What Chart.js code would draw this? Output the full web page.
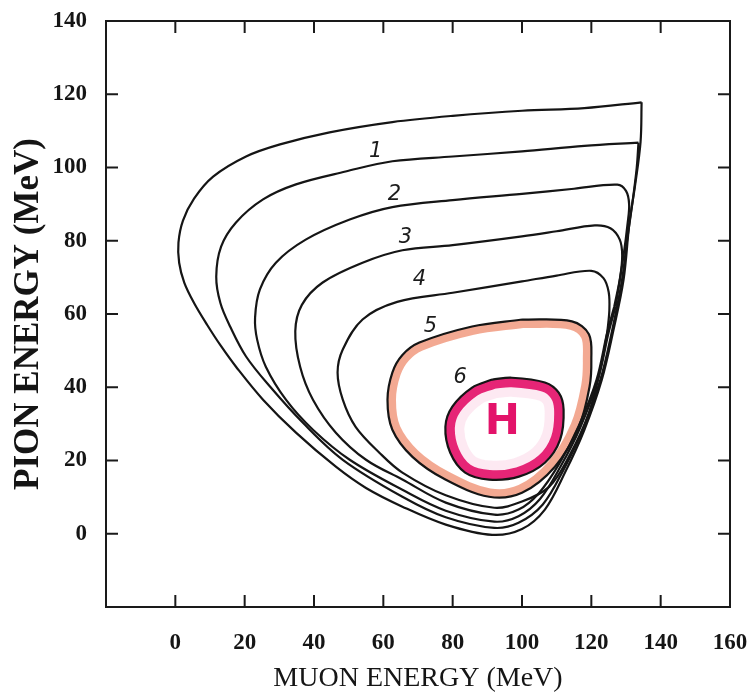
<!DOCTYPE html>
<html>
<head>
<meta charset="utf-8">
<script src="https://cdn.jsdelivr.net/npm/chart.js@4.4.1/dist/chart.umd.min.js"></script>
<style>
  html, body { margin: 0; padding: 0; background: #fff; }
  #wrap { width: 748px; height: 698px; }
</style>
</head>
<body>
<div id="wrap"><canvas id="dalitz"></canvas></div>
<script>
// contour lines, muon energy (x) vs pion energy (y), MeV
const c1Mu = [134.5, 118, 100, 80, 62.6, 44.5, 30.2, 20.4, 10.9, 5.4, 2.2, 0.9, 1.1, 2.6, 5.4, 9.2, 13.2, 17.5, 25.3, 34.8, 46.3, 55, 65.5, 78, 91.4, 100, 106.6, 112.4, 118, 123, 126.4, 129.3, 131, 132.6, 134.2, 134.5];
const c1Pi = [117.8, 116.2, 115.5, 114.1, 112.4, 109.6, 106.3, 103, 97.5, 91.5, 85.5, 79.5, 74, 68.5, 63, 57, 51.2, 45.6, 36.6, 27.6, 18.3, 12.5, 7.4, 2.5, -0.3, 1.3, 6.6, 16.7, 28.4, 42, 55.7, 69.4, 85, 95, 107, 117.8];

const c2Mu = [133.6, 118, 100, 80, 62.6, 49.1, 34.8, 25.3, 17.5, 13.2, 11.8, 13, 15.8, 20.4, 27.3, 36.8, 48.3, 65.5, 78, 92, 99, 106, 112, 117.6, 122.6, 126, 128.8, 130.3, 131.8, 133.1, 133.6];
const c2Pi = [106.8, 105.9, 104.4, 103, 101.7, 98.9, 95.4, 91.3, 85, 78.4, 70.2, 63, 56.6, 48.4, 40.2, 30.3, 20.2, 10.1, 4.5, 1.6, 3, 8, 17.5, 28.5, 42, 55.5, 69, 80, 90, 100, 106.8];

const c3Mu = [127.0, 129.3, 130.5, 130.9, 130, 127.5, 115, 100, 80, 62.6, 50.3, 37.6, 29, 24.4, 23, 23.6, 26.1, 31.9, 39.7, 50.3, 65.5, 78, 92, 99, 105.2, 111.2, 116.8, 121.9, 125.0, 127.0];
const c3Pi = [62, 76, 85, 90, 93.6, 95.3, 94.2, 92.8, 91.1, 89.2, 85.8, 80.3, 74, 66.7, 59, 53, 45.6, 36.6, 28.4, 20.2, 12, 6.3, 3.3, 4.8, 9.5, 18.5, 29, 42, 55, 62];

const c4Mu = [126.6, 128.3, 128.9, 128.2, 125.5, 121, 110, 100, 80, 65.5, 54, 42.5, 36.5, 34.6, 36, 39.7, 46.3, 55, 65.5, 78, 92, 99, 104.8, 110.8, 116.4, 121.5, 124.6, 126.6];
const c4Pi = [62, 70, 76, 80.3, 83.4, 84.2, 82.6, 81.2, 78.8, 77.4, 74, 68.6, 62.5, 55.3, 45.6, 36.6, 27.6, 20.2, 14.8, 8.5, 5.2, 6.6, 11, 19.2, 29.5, 42, 55, 62];

const c5Mu = [124.6, 125.2, 125, 123.5, 120, 110, 100, 80, 64, 54, 48.3, 46.8, 48.3, 52, 59, 65.5, 78, 92, 100, 107.8, 113.5, 119.3, 123, 124.6];
const c5Pi = [55, 61, 66, 69.8, 71.8, 70.5, 68.9, 65.8, 63.3, 58.5, 50.3, 44, 36.6, 29.2, 22, 16.7, 10.5, 7.1, 8.8, 12.8, 21, 33, 46.7, 55];

// the orange ring and the magenta ring
const c6Mu = [100, 85.6, 70.4, 65.5, 62.6, 61.2, 62.6, 68.4, 77.9, 90.5, 100, 109.5, 116.4, 119.5, 120, 119.3, 114.4, 100];
const c6Pi = [58.5, 56.6, 52.2, 48.8, 44, 36.6, 28.4, 21, 14.8, 10.1, 11.2, 18.3, 29.2, 40.2, 47.5, 54.5, 58, 58.5];

const c7Mu = [91.4, 85.6, 79.9, 77.9, 79.3, 83.6, 90.5, 99.1, 106.6, 111, 112, 110.6, 106.6, 97.1, 91.4];
const c7Pi = [42.1, 39.9, 34.7, 29.2, 22.1, 16.7, 14.8, 15.6, 19.4, 25.7, 33.9, 38.5, 41.3, 42.6, 42.1];

// region labels
const regionText = ['1', '2', '3', '4', '5', '6'];
const regionMu = [57.8, 63.2, 66.4, 70.4, 73.6, 82.2];
const regionPi = [104.4, 92.6, 80.9, 69.4, 56.6, 42.6];
const centreText = 'H';
const centreMu = 94.3;
const centrePi = 30.3;

const xTicks = [0, 20, 40, 60, 80, 100, 120, 140, 160];
const yTicks = [0, 20, 40, 60, 80, 100, 120, 140];

function pts(xs, ys) {
  return xs.map((x, i) => ({ x: x, y: ys[i] }));
}

function outline(xs, ys) {
  return {
    data: pts(xs, ys),
    showLine: true,
    borderColor: '#151515',
    borderWidth: 2.2,
    pointRadius: 0,
    tension: 0.35,
    fill: false,
    order: 0
  };
}

function band(xs, ys, colour, width, inside) {
  return {
    data: pts(xs, ys),
    showLine: true,
    borderColor: colour,
    borderWidth: width,
    pointRadius: 0,
    tension: 0.35,
    fill: false,
    order: 5,
    clipInside: inside
  };
}

// clip a band to the inside of its outline
const insideBand = {
  id: 'insideBand',
  beforeDatasetDraw(chart, args) {
    const ds = chart.data.datasets[args.index];
    if (ds.clipInside === undefined) return;
    const line = chart.getDatasetMeta(ds.clipInside).dataset;
    line.updateControlPoints(chart.chartArea, 'x');
    const ctx = chart.ctx;
    ctx.save();
    ctx.beginPath();
    line.path(ctx);
    ctx.closePath();
    ctx.clip();
  },
  afterDatasetDraw(chart, args) {
    const ds = chart.data.datasets[args.index];
    if (ds.clipInside === undefined) return;
    chart.ctx.restore();
  }
};

// frame, inward ticks and the labels
const frame = {
  id: 'frame',
  afterDraw(chart) {
    const ctx = chart.ctx;
    const a = chart.chartArea;
    const xs = chart.scales.x, ys = chart.scales.y;
    const len = 12;
    ctx.save();
    ctx.strokeStyle = '#1a1a1a';
    ctx.lineWidth = 2;
    ctx.strokeRect(a.left, a.top, a.right - a.left, a.bottom - a.top);
    ctx.beginPath();
    xTicks.forEach(v => {
      const px = xs.getPixelForValue(v);
      if (px >= a.right - 1) return;
      ctx.moveTo(px, a.bottom); ctx.lineTo(px, a.bottom - len);
      ctx.moveTo(px, a.top); ctx.lineTo(px, a.top + len);
    });
    yTicks.forEach(v => {
      const py = ys.getPixelForValue(v);
      if (py <= a.top + 1) return;
      ctx.moveTo(a.left, py); ctx.lineTo(a.left + len, py);
      ctx.moveTo(a.right, py); ctx.lineTo(a.right - len, py);
    });
    ctx.stroke();

    ctx.fillStyle = '#1c1c1c';
    ctx.textAlign = 'center';
    ctx.textBaseline = 'middle';
    ctx.font = 'italic 21px "DejaVu Sans"';
    regionText.forEach((t, i) => {
      ctx.fillText(t, xs.getPixelForValue(regionMu[i]), ys.getPixelForValue(regionPi[i]));
    });
    ctx.fillStyle = '#e3136a';
    ctx.font = 'bold 42px "DejaVu Sans"';
    ctx.fillText(centreText, xs.getPixelForValue(centreMu), ys.getPixelForValue(centrePi));
    ctx.restore();
  }
};

const tickFont = { family: '"Liberation Serif", serif', size: 23, weight: 'bold' };

new Chart(document.getElementById('dalitz'), {
  type: 'scatter',
  data: {
    datasets: [
      outline(c1Mu, c1Pi),
      outline(c2Mu, c2Pi),
      outline(c3Mu, c3Pi),
      outline(c4Mu, c4Pi),
      outline(c5Mu, c5Pi),
      outline(c6Mu, c6Pi),
      outline(c7Mu, c7Pi),
      band(c6Mu, c6Pi, 'rgba(238,132,100,0.7)', 17, 5),
      band(c7Mu, c7Pi, 'rgba(240,120,175,0.16)', 38, 6),
      band(c7Mu, c7Pi, '#e4166c', 19, 6)
    ]
  },
  options: {
    responsive: true,
    maintainAspectRatio: false,
    animation: false,
    events: [],
    layout: { padding: { top: 21, right: 18, left: 0, bottom: 0 } },
    plugins: { legend: { display: false }, tooltip: { enabled: false } },
    scales: {
      x: {
        type: 'linear',
        min: -20,
        max: 160,
        grid: { display: false, drawTicks: false },
        border: { display: false },
        ticks: {
          stepSize: 20,
          autoSkip: false,
          maxRotation: 0,
          padding: 22,
          color: '#151515',
          font: tickFont,
          callback: v => (v < 0 ? '' : v)
        },
        title: {
          display: true,
          text: 'MUON ENERGY (MeV)',
          color: '#151515',
          font: { family: '"Liberation Serif", serif', size: 28 },
          padding: { top: 0, bottom: 3 }
        },
        afterFit: s => { s.height = 91; s.paddingLeft = 0; s.paddingRight = 0; }
      },
      y: {
        type: 'linear',
        min: -20,
        max: 140,
        grid: { display: false, drawTicks: false },
        border: { display: false },
        ticks: {
          stepSize: 20,
          autoSkip: false,
          padding: 19,
          color: '#151515',
          font: tickFont,
          callback: v => (v < 0 ? '' : v)
        },
        title: {
          display: true,
          text: 'PION ENERGY (MeV)',
          color: '#151515',
          font: { family: '"Liberation Serif", serif', size: 35, weight: 'bold' },
          padding: { top: 8, bottom: 0 }
        },
        afterFit: s => { s.width = 106; s.paddingTop = 0; s.paddingBottom = 0; }
      }
    }
  },
  plugins: [insideBand, frame]
});
</script>
</body>
</html>
